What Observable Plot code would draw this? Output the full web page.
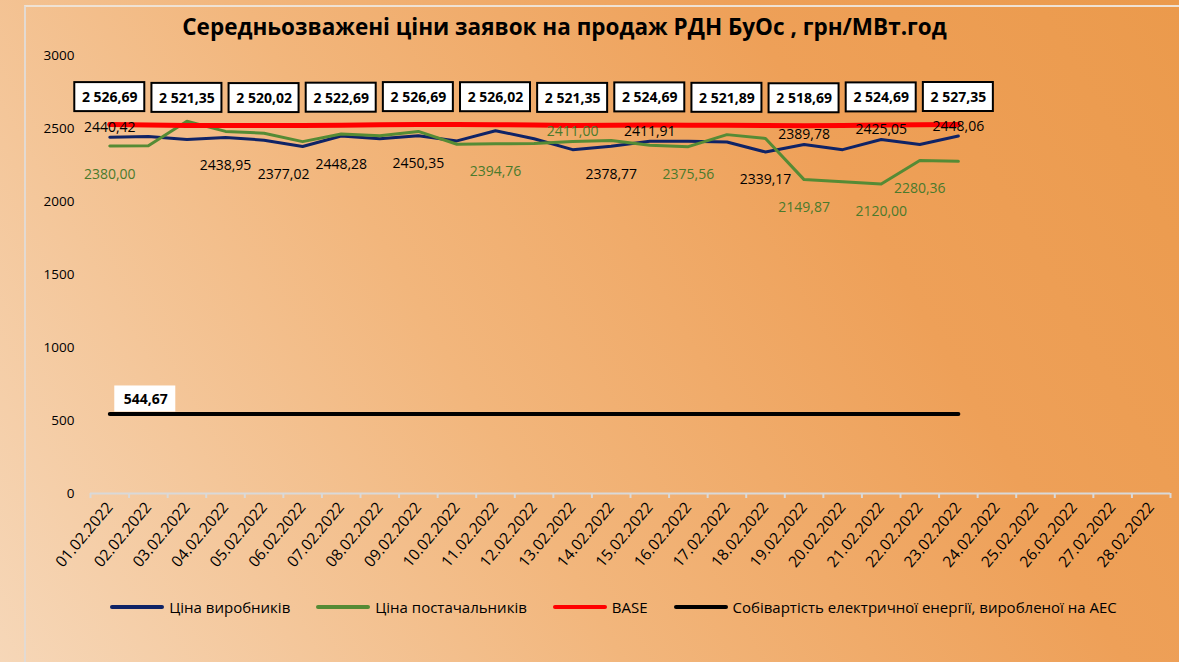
<!DOCTYPE html>
<html>
<head>
<meta charset="utf-8">
<script src="https://cdn.jsdelivr.net/npm/d3@7"></script>
<script src="https://cdn.jsdelivr.net/npm/@observablehq/plot@0.6"></script>
<style>
  body { margin: 0; }
  #frame {
    position: relative; width: 1179px; height: 662px; overflow: hidden;
    background: linear-gradient(60deg, #f6d7b8 0%, #f2b67c 40%, #eea058 72%, #eb9a4c 100%);
    font-family: "Open Sans", sans-serif; color: #000;
  }
  #border { position: absolute; left: 24px; top: 5px; right: -5px; bottom: -5px;
    border-left: 2px solid #e3dad2; border-top: 2px solid #efe2d4; pointer-events: none; }
  #title { height: 48px; line-height: 54px; text-align: center; font-weight: bold;
    font-size: 22.5px; padding-right: 50px; white-space: nowrap; }
  #chart svg { display: block; overflow: visible; }
  #legend { height: 28px; display: flex; justify-content: center; align-items: center;
    padding-left: 48px; font-size: 15px; white-space: nowrap; }
  .item { display: flex; align-items: center; margin: 0 13px; }
  .sw { display: inline-block; width: 54px; height: 4px; margin-right: 5px; border-radius: 2px; }
</style>
</head>
<body>
<div id="frame">
  <div id="border"></div>
  <div id="title"></div>
  <div id="chart"></div>
  <div id="legend"></div>
</div>
<script>
const titleText = "Середньозважені ціни заявок на продаж РДН БуОс , грн/МВт.год";
const dates = ["01.02.2022","02.02.2022","03.02.2022","04.02.2022","05.02.2022","06.02.2022","07.02.2022",
  "08.02.2022","09.02.2022","10.02.2022","11.02.2022","12.02.2022","13.02.2022","14.02.2022","15.02.2022",
  "16.02.2022","17.02.2022","18.02.2022","19.02.2022","20.02.2022","21.02.2022","22.02.2022","23.02.2022",
  "24.02.2022","25.02.2022","26.02.2022","27.02.2022","28.02.2022"];
const yTicks = [0, 500, 1000, 1500, 2000, 2500, 3000];

const seriesNames = ["Ціна виробників", "Ціна постачальників", "BASE",
  "Собівартість електричної енергії, виробленої на АЕС"];

const producerPrice = [2440.42, 2445, 2425, 2438.95, 2420, 2377.02, 2448.28, 2430, 2450.35, 2415, 2485, 2430,
  2355, 2378.77, 2411.91, 2412, 2408, 2339.17, 2389.78, 2355, 2425.05, 2390, 2448.06];
const supplierPrice = [2380.00, 2382, 2550, 2480, 2468, 2410, 2462, 2450, 2480, 2392, 2394.76, 2397,
  2411.00, 2418, 2385, 2375.56, 2458, 2432, 2149.87, 2135, 2120.00, 2280.36, 2275];
const basePrice = [2526.69, 2524, 2521.35, 2520, 2520.02, 2521, 2522.69, 2525, 2526.69, 2527, 2526.02, 2524,
  2521.35, 2523, 2524.69, 2523, 2521.89, 2520, 2518.69, 2521, 2524.69, 2526, 2527.35];
const nuclearCost = [544.67, 544.67, 544.67, 544.67, 544.67, 544.67, 544.67, 544.67, 544.67, 544.67, 544.67,
  544.67, 544.67, 544.67, 544.67, 544.67, 544.67, 544.67, 544.67, 544.67, 544.67, 544.67, 544.67];

// indices of points that carry data labels
const producerLabelsAbove = [0, 14, 18, 20, 22];
const producerLabelsBelow = [3, 6, 8, 13, 17];
const producerLabelsBelowLeft = [5];
const supplierLabelsAbove = [12];
const supplierLabelsBelow = [0, 10, 15, 18, 20, 21];
const baseLabels = [0, 2, 4, 6, 8, 10, 12, 14, 16, 18, 20, 22];
const nuclearLabels = [0];

const colors = ["#0f2366", "#558b35", "#ff0000", "#000000"];

const loc = d3.formatLocale({decimal: ",", thousands: " ", grouping: [3], currency: ["", ""]});
const fmtLabel = loc.format(".2f");
const fmtBox = loc.format(",.2f");

const rows = producerPrice.map((v, i) => ({
  i, date: dates[i], producer: v, supplier: supplierPrice[i], base: basePrice[i], nuclear: nuclearCost[i]
}));
const pick = idx => idx.map(i => rows[i]);
const boundaries = d3.range(dates.length + 1).map(i => i - 0.5);

document.getElementById("title").textContent = titleText;

const chart = Plot.plot({
  width: 1179, height: 545,
  marginLeft: 90, marginRight: 9, marginTop: 7, marginBottom: 100,
  style: {background: "transparent", fontFamily: "Open Sans, sans-serif", fontSize: "14px", color: "#000", overflow: "visible"},
  x: {type: "linear", domain: [-0.5, dates.length - 0.5]},
  y: {domain: [0, 3000]},
  marks: [
    Plot.axisY(yTicks, {tickSize: 0, tickPadding: 16, label: null, tickFormat: d => String(d), fontSize: 13.5, fill: "#000"}),
    Plot.ruleY([0], {stroke: "#d9d9d9", strokeWidth: 2}),
    Plot.axisX(boundaries, {tickSize: 5, stroke: "#d9d9d9", strokeWidth: 2, strokeOpacity: 1, tickFormat: () => "", label: null}),
    Plot.axisX(d3.range(dates.length), {tickSize: 0, tickPadding: 11, tickRotate: -50, tickFormat: i => dates[i], label: null, fontSize: 15.5, fill: "#000"}),
    Plot.line(rows, {x: "i", y: "producer", stroke: colors[0], strokeWidth: 3}),
    Plot.line(rows, {x: "i", y: "supplier", stroke: colors[1], strokeWidth: 3}),
    Plot.line(rows, {x: "i", y: "base", stroke: colors[2], strokeWidth: 5}),
    Plot.line(rows, {x: "i", y: "nuclear", stroke: colors[3], strokeWidth: 4, strokeLinecap: "round"}),
    // producer labels
    Plot.text(pick(producerLabelsAbove), {x: "i", y: "producer", text: d => fmtLabel(d.producer), dy: -10, fontSize: 14, fill: "#000"}),
    Plot.text(pick(producerLabelsBelow), {x: "i", y: "producer", text: d => fmtLabel(d.producer), dy: 28, fontSize: 14, fill: "#000"}),
    Plot.text(pick(producerLabelsBelowLeft), {x: "i", y: "producer", text: d => fmtLabel(d.producer), dx: -19, dy: 28, fontSize: 14, fill: "#000"}),
    // supplier labels
    Plot.text(pick(supplierLabelsAbove), {x: "i", y: "supplier", text: d => fmtLabel(d.supplier), dy: -10, fontSize: 14, fill: "#4a7a2c"}),
    Plot.text(pick(supplierLabelsBelow), {x: "i", y: "supplier", text: d => fmtLabel(d.supplier), dy: 28, fontSize: 14, fill: "#4a7a2c"}),
    // BASE boxed labels
    Plot.rect(pick(baseLabels), {x1: "i", x2: "i", y1: "base", y2: "base",
      insetLeft: -35, insetRight: -35, insetTop: -42, insetBottom: 13, fill: "white", stroke: "#000", strokeWidth: 2}),
    Plot.text(pick(baseLabels), {x: "i", y: "base", text: d => fmtBox(d.base), dy: -27, fontSize: 14, fontWeight: "bold", fill: "#000"}),
    // nuclear cost label
    Plot.rect(pick(nuclearLabels), {x1: "i", x2: "i", y1: "nuclear", y2: "nuclear",
      insetLeft: 5, insetRight: -66, insetTop: -28, insetBottom: 2, fill: "white"}),
    Plot.text(pick(nuclearLabels), {x: "i", y: "nuclear", text: d => fmtLabel(d.nuclear), dx: 36, dy: -14, fontSize: 14, fontWeight: "bold", fill: "#000"})
  ]
});
document.getElementById("chart").append(chart);

const legend = d3.select("#legend");
seriesNames.forEach((name, k) => {
  const it = legend.append("div").attr("class", "item");
  it.append("span").attr("class", "sw").style("background", colors[k]);
  it.append("span").text(name);
});
</script>
</body>
</html>
